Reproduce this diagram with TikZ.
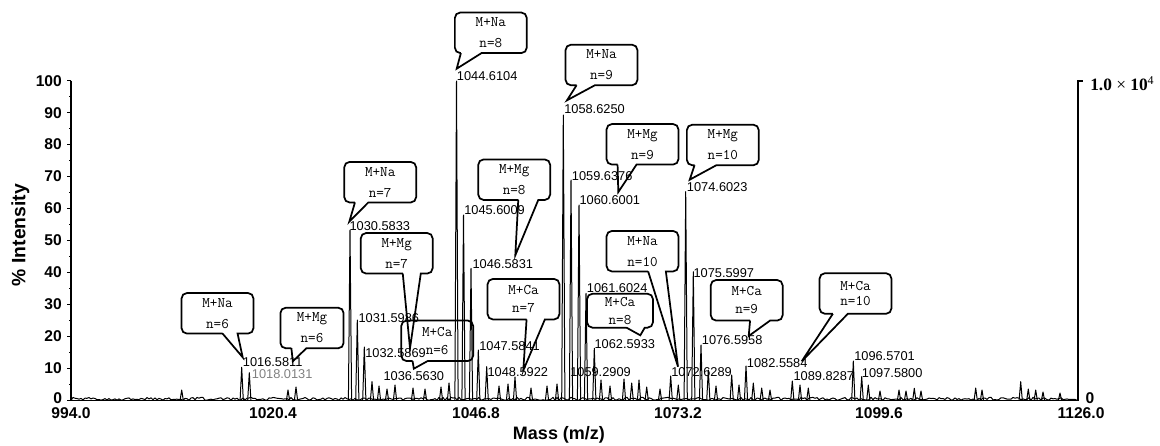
\documentclass[tikz,border=0pt]{standalone}
\usepackage{fontspec}
\usetikzlibrary{calc}
\newfontfamily\lsans{Liberation Sans}
\newfontfamily\lserif{Liberation Serif}
\begin{document}
\begin{tikzpicture}[x=0.75pt,y=-0.75pt,
  spec/.style={black,line width=0.75pt,line join=round},
  pk/.style={anchor=north west,font=\lsans\fontsize{9.6}{10}\selectfont},
  axlbl/.style={font=\lsans\bfseries\fontsize{11.7}{12}\selectfont},
  bbox/.style={minimum width=53.5pt,minimum height=30pt,align=center,font=\ttfamily\fontsize{11}{15.75}\selectfont},
  cabox/.style={bbox,font=\ttfamily\fontsize{11}{13.3}\selectfont},
  balloon/.style={black,line width=1.3pt,line join=miter}]
\tikzstyle{every node}+=[inner sep=0pt]
\useasboundingbox (0,0) rectangle (1160,446);
% axes
\draw [black,line width=0.8pt] (71,80.7) -- (71,400.3) -- (1078,400.3) -- (1078,81) -- (1083,81);
\foreach \v in {10,20,...,100}
  \draw [black,line width=0.8pt] (71,{400.3-3.196*\v}) -- ++(-4,0) node [axlbl,anchor=east,xshift=-3.5pt] {\v};
\draw [black,line width=0.8pt] (71,400.3) -- ++(-4,0);
\node [axlbl,anchor=east] at (62.3,398) {0};
\foreach \v in {5,15,...,95}
  \draw [black,line width=0.8pt] (71,{400.3-3.196*\v}) -- ++(-2.5,0);
\foreach \m/\px in {994.0/71,1020.4/273,1046.8/476,1073.2/678,1099.6/879,1126.0/1081}
  \node [axlbl] at (\px,413.5) {\m};
\node [axlbl] at (1090,398.5) {0};
\node [anchor=west,font=\lserif\fontsize{13}{13}\selectfont] at (1090,84) {\textbf{1.0} × \textbf{10}\raisebox{0.75ex}{\fontsize{9}{9}\selectfont 4}};
\node [font=\lsans\bfseries\fontsize{14.5}{15}\selectfont,rotate=90] at (20.5,235) {\% Intensity};
\node [font=\lsans\bfseries\fontsize{13.5}{14}\selectfont] at (559,435) {Mass (m/z)};
% spectrum
\pgfmathsetseed{11}
\draw [spec] (71,400.3) \foreach \i in {73,75,...,1077} { -- (\i,{400.3-3*rnd}) };
\foreach \px/\py in {241.7/367.3,249.3/372.7,350/230,357.3/320,364.3/347,372/381.7,
  456.5/81,463.5/215,471/268.3,478.3/350,486.7/366.7,563.3/115,571/180,579/205,
  586/293.3,594.3/348.3,685.7/191.7,693.3/271.7,701/345,708.3/370,746/366,
  853.3/361,861.7/376.7,181.7/390,288/390,296/387,379/386,387/389,395/385,413/388,
  425/389,441/387,449/383,499/386,508/384,515/377,531/388,547/386,557/384,601/380,
  610/386,624/379,631.7/383,639/380,646.7/387,660/389,670.7/376,678.3/385,716/386,
  731.7/375,739/385,753.3/383,761.7/388,770/390,792.3/381,800/385,808.3/388,
  868.3/385,880/391,899/390,906/391,914.3/388.3,921/391,975.7/388,982/390,
  1020.7/381.7,1028.3/389,1035.7/390,1043/392,1060/393}
  \draw [spec] (\px-1.6,400.3) -- (\px,\py) -- (\px+1.6,400.3);
% peak labels
\node [pk] (l1016) at (242.7,357.3) {1016.5811};
\node [pk,gray] (l1018) at (251.7,369.3) {1018.0131};
\node [pk] (l1030) at (349.3,221.7) {1030.5833};
\node [pk] (l1031) at (358.3,313.3) {1031.5986};
\node [pk] (l1032) at (365,348.3) {1032.5869};
\node [pk] (l1036) at (383.3,371.7) {1036.5630};
\node [pk] (l1044) at (456.7,71.7) {1044.6104};
\node [pk] (l1045) at (464,205) {1045.6009};
\node [pk] (l1046) at (472.3,259.3) {1046.5831};
\node [pk] (l1047) at (479,341.7) {1047.5841};
\node [pk] (l1048) at (487.3,367.3) {1048.5922};
\node [pk] (l1058) at (564,104.3) {1058.6250};
\node [pk] (l1059) at (571.7,171) {1059.6376};
\node [pk] (l1060) at (579.3,195) {1060.6001};
\node [pk] (l1061) at (586.7,283.3) {1061.6024};
\node [pk] (l1062) at (594.3,339.3) {1062.5933};
\node [pk] (l1059b) at (570,367.7) {1059.2909};
\node [pk] (l1072) at (671,367.7) {1072.6289};
\node [pk] (l1074) at (686.7,182.7) {1074.6023};
\node [pk] (l1075) at (693.3,268.3) {1075.5997};
\node [pk] (l1076) at (701.7,335) {1076.5958};
\node [pk] (l1082) at (746.7,358.3) {1082.5584};
\node [pk] (l1089) at (793.3,371.7) {1089.8287};
\node [pk] (l1096) at (854,351.7) {1096.5701};
\node [pk] (l1097) at (861.7,368.3) {1097.5800};
% balloons
\node [bbox] (bNa6) at (217.5,313.3) {M+Na\\n=6};
\draw [balloon] ($(bNa6.south west)+(41,0)$) -- (l1016.north west) -- ($(bNa6.south west)+(56,0)$) [rounded corners=4pt] -- (bNa6.south east) -- (bNa6.north east) -- (bNa6.north west) -- (bNa6.south west) -- ($(bNa6.south west)+(41,0)$);
\node [bbox,minimum width=47pt] (bMg6) at (312,328) {M+Mg\\n=6};
\draw [balloon] ($(bMg6.south west)+(11,0)$) -- ($(l1016.north east)+(-10,4)$) -- ($(bMg6.south west)+(26,0)$) [rounded corners=4pt] -- (bMg6.south east) -- (bMg6.north east) -- (bMg6.north west) -- (bMg6.south west) -- ($(bMg6.south west)+(11,0)$);
\node [bbox] (bNa7) at (380.2,182.2) {M+Na\\n=7};
\draw [balloon] ($(bNa7.south west)+(10.7,0)$) -- (l1030.north west) -- ($(bNa7.south west)+(24,0)$) [rounded corners=4pt] -- (bNa7.south east) -- (bNa7.north east) -- (bNa7.north west) -- (bNa7.south west) -- ($(bNa7.south west)+(10.7,0)$);
\node [bbox] (bMg7) at (396.7,253.3) {M+Mg\\n=7};
\draw [balloon] ($(bMg7.south west)+(42,0)$) -- ($(l1032.north west)+(45,0)$) -- ($(bMg7.south west)+(60,0)$) [rounded corners=4pt] -- (bMg7.south east) -- (bMg7.north east) -- (bMg7.north west) -- (bMg7.south west) -- ($(bMg7.south west)+(42,0)$);
\node [cabox,font=\ttfamily\fontsize{11}{13.5}\selectfont] (bCa6) at (437.2,340.8) {M+Ca\\n=6};
\draw [balloon] ($(bCa6.south west)+(11.3,0)$) -- ($(l1036.north)+(0,-3)$) -- ($(bCa6.south west)+(26.3,0)$) [rounded corners=4pt] -- (bCa6.south east) -- (bCa6.north east) -- (bCa6.north west) -- (bCa6.south west) -- ($(bCa6.south west)+(11.3,0)$);
\node [bbox] (bNa8) at (490.8,32.8) {M+Na\\n=8};
\draw [balloon] ($(bNa8.south west)+(6,0)$) -- ($(l1044.north west)+(0,-3)$) -- ($(bNa8.south west)+(26.7,0)$) [rounded corners=4pt] -- (bNa8.south east) -- (bNa8.north east) -- (bNa8.north west) -- (bNa8.south west) -- ($(bNa8.south west)+(6,0)$);
\node [bbox] (bNa9) at (601.5,65) {M+Na\\n=9};
\draw [balloon] ($(bNa9.south west)+(11,0)$) -- ($(l1058.north west)+(3,-4)$) -- ($(bNa9.south west)+(29.3,0)$) [rounded corners=4pt] -- (bNa9.south east) -- (bNa9.north east) -- (bNa9.north west) -- (bNa9.south west) -- ($(bNa9.south west)+(11,0)$);
\node [bbox] (bMg8) at (514.2,179.7) {M+Mg\\n=8};
\draw [balloon] ($(bMg8.south west)+(40,0)$) -- ($(l1046.north west)+(43,-4)$) -- ($(bMg8.south west)+(60,0)$) [rounded corners=4pt] -- (bMg8.south east) -- (bMg8.north east) -- (bMg8.north west) -- (bMg8.south west) -- ($(bMg8.south west)+(40,0)$);
\node [bbox] (bMg9) at (642.5,144.3) {M+Mg\\n=9};
\draw [balloon] ($(bMg9.south west)+(11,0)$) -- ($(l1060.north west)+(39,-3)$) -- ($(bMg9.south west)+(30,0)$) [rounded corners=4pt] -- (bMg9.south east) -- (bMg9.north east) -- (bMg9.north west) -- (bMg9.south west) -- ($(bMg9.south west)+(11,0)$);
\node [bbox] (bMg10) at (722.8,145) {M+Mg\\n=10};
\draw [balloon] ($(bMg10.south west)+(7.7,0)$) -- ($(l1074.north west)+(3,-3)$) -- ($(bMg10.south west)+(29.4,0)$) [rounded corners=4pt] -- (bMg10.south east) -- (bMg10.north east) -- (bMg10.north west) -- (bMg10.south west) -- ($(bMg10.south west)+(7.7,0)$);
\node [cabox] (bCa7) at (523.5,299.2) {M+Ca\\n=7};
\draw [balloon] ($(bCa7.south west)+(39,0)$) -- ($(l1048.north west)+(36,3)$) -- ($(bCa7.south west)+(57.3,0)$) [rounded corners=4pt] -- (bCa7.south east) -- (bCa7.north east) -- (bCa7.north west) -- (bCa7.south west) -- ($(bCa7.south west)+(39,0)$);
\node [bbox] (bNa10) at (642.5,251.2) {M+Na\\n=10};
\draw [balloon] ($(bNa10.south west)+(41.6,0)$) -- ($(l1072.north west)+(7,-1)$) -- ($(bNa10.south west)+(59.3,0)$) [rounded corners=4pt] -- (bNa10.south east) -- (bNa10.north east) -- (bNa10.north west) -- (bNa10.south west) -- ($(bNa10.south west)+(41.6,0)$);
\node [cabox,minimum width=49pt,minimum height=25pt] (bCa8) at (620,310.7) {M+Ca\\n=8};
\draw [balloon] ($(bCa8.south west)+(39.4,0)$) -- ($(l1062.north west)+(46,-4)$) -- ($(bCa8.south west)+(57.7,0)$) [rounded corners=4pt] -- (bCa8.south east) -- (bCa8.north east) -- (bCa8.north west) -- (bCa8.south west) -- ($(bCa8.south west)+(39.4,0)$);
\node [cabox] (bCa9) at (746.7,300.3) {M+Ca\\n=9};
\draw [balloon] ($(bCa9.south west)+(39.3,0)$) -- ($(l1076.north west)+(47,1)$) -- ($(bCa9.south west)+(59.3,0)$) [rounded corners=4pt] -- (bCa9.south east) -- (bCa9.north east) -- (bCa9.north west) -- (bCa9.south west) -- ($(bCa9.south west)+(39.3,0)$);
\node [cabox,font=\ttfamily\fontsize{11}{11.3}\selectfont] (bCa10) at (855.5,293.5) {M+Ca\\n=10};
\draw [balloon] ($(bCa10.south west)+(13.3,0)$) -- ($(l1082.north west)+(55,3)$) -- ($(bCa10.south west)+(28.3,0)$) [rounded corners=4pt] -- (bCa10.south east) -- (bCa10.north east) -- (bCa10.north west) -- (bCa10.south west) -- ($(bCa10.south west)+(13.3,0)$);
\end{tikzpicture}
\end{document}
